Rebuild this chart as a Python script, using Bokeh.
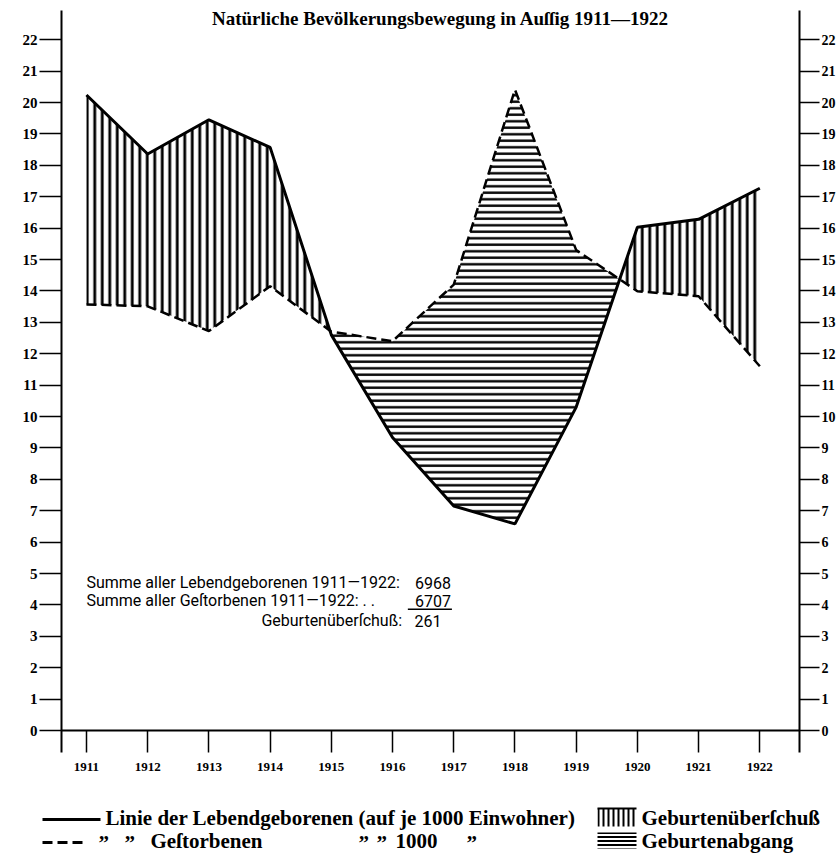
import numpy as np
from bokeh.plotting import figure
from bokeh.models import Range1d, LinearAxis, FixedTicker, Span, Label
from bokeh.layouts import column
from bokeh.embed import file_html
from bokeh.resources import INLINE
from bokeh.core.properties import value

# ---------------- data ----------------
years = [1911, 1912, 1913, 1914, 1915, 1916, 1917, 1918, 1919, 1920, 1921, 1922]
births = [20.24, 18.36, 19.45, 18.57, 12.6, 9.33, 7.15, 6.58, 10.3, 16.03, 16.28, 17.27]
deaths = [13.57, 13.51, 12.72, 14.15, 12.7, 12.4, 14.2, 20.41, 15.3, 13.99, 13.83, 11.6]
y_ticks = list(range(0, 23))
sum_births = 6968
sum_deaths = 6707
surplus_total = sum_births - sum_deaths

title_text = "Natürliche Bevölkerungsbewegung in Auſſig 1911—1922"
line1_text = "Summe aller Lebendgeborenen 1911—1922:"
line2_text = "Summe aller Geſtorbenen 1911—1922:    .    ."
line3_text = "Geburtenüberſchuß:"
leg_births = "Linie der Lebendgeborenen (auf je 1000 Einwohner)"
leg_deaths = "Geſtorbenen"
leg_per = "1000"
leg_surplus = "Geburtenüberſchuß"
leg_deficit = "Geburtenabgang"
ditto = "\u201d"

# ------------- insert crossing points between the two series -------------
xs, bb, dd = [], [], []
for i in range(len(years)):
    xs.append(years[i]); bb.append(births[i]); dd.append(deaths[i])
    if i < len(years) - 1:
        d1 = births[i] - deaths[i]
        d2 = births[i + 1] - deaths[i + 1]
        if d1 * d2 < 0:
            t = d1 / (d1 - d2)
            xc = years[i] + t
            yc = births[i] + t * (births[i + 1] - births[i])
            xs.append(xc); bb.append(yc); dd.append(yc)
top = [max(a, b) for a, b in zip(bb, dd)]

SERIF = "Liberation Serif"
SANS = "Roboto"

# ---------------- main figure ----------------
p = figure(width=838, height=790,
           x_range=Range1d(1910.592, 1922.648), y_range=Range1d(-0.70, 22.93),
           x_axis_type=None, y_axis_type=None,
           output_backend="svg", toolbar_location=None,
           min_border_left=61, min_border_right=38, min_border_top=10, min_border_bottom=38)
p.outline_line_color = None
p.background_fill_color = "white"
p.border_fill_color = "white"
p.frame_align = False

def style_y(ax, tick_out, size):
    ax.ticker = FixedTicker(ticks=y_ticks)
    ax.axis_line_width = 2
    ax.axis_line_color = "black"
    ax.major_tick_out = tick_out
    ax.major_tick_in = 0
    ax.major_tick_line_width = 1.5
    ax.minor_tick_out = 0
    ax.minor_tick_in = 0
    ax.major_label_standoff = 2
    ax.major_label_text_font = SERIF
    ax.major_label_text_font_style = "bold"
    ax.major_label_text_font_size = size
    ax.major_label_text_color = "black"

yl = LinearAxis()
style_y(yl, 22, "15px")
p.add_layout(yl, "left")
yr = LinearAxis()
style_y(yr, 20, "14px")
p.add_layout(yr, "right")

xa = LinearAxis(ticker=FixedTicker(ticks=years))
xa.axis_line_color = None
xa.major_tick_in = 22
xa.major_tick_out = 0
xa.major_tick_line_width = 1.5
xa.minor_tick_in = 0
xa.minor_tick_out = 0
xa.major_label_standoff = 10
xa.major_label_text_font = SERIF
xa.major_label_text_font_style = "bold"
xa.major_label_text_font_size = "13px"
xa.major_label_text_color = "black"
p.add_layout(xa, "below")

p.add_layout(Span(location=0, dimension="width", line_color="black", line_width=2.2))

# hatched areas
p.varea(x=xs, y1=dd, y2=top, fill_color=None, fill_alpha=0,
        hatch_pattern="vertical_line", hatch_color="black", hatch_weight=2.8, hatch_scale=7.5)
p.varea(x=xs, y1=bb, y2=top, fill_color=None, fill_alpha=0,
        hatch_pattern="horizontal_line", hatch_color="black", hatch_weight=2.4, hatch_scale=6.5)

# lines
p.line(years, births, line_color="black", line_width=3)
p.line(years, deaths, line_color="black", line_width=2.5, line_dash="10 5")

# title (top of the page, kept fully visible)
p.add_layout(Label(x=379, y=734, x_units="screen", y_units="screen", text=title_text,
                   text_align="center", text_baseline="alphabetic",
                   text_font=SERIF, text_font_style="bold", text_font_size="19px",
                   text_color="black"))

# text block
TB = dict(text_font=value(SANS), text_font_size="16px", text_color="black", text_baseline="middle")
p.text(x=[1911.0, 1911.0], y=[4.71, 4.13], text=[line1_text, line2_text], text_align="left", **TB)
p.text(x=[1916.954, 1916.954, 1916.8], y=[4.71, 4.13, 3.50],
       text=[str(sum_births), str(sum_deaths), str(surplus_total)], text_align="right", **TB)
p.text(x=[1916.155], y=[3.50], text=[line3_text], text_align="right", **TB)
p.segment(x0=[1916.25], y0=[3.86], x1=[1916.97], y1=[3.86], line_color="black", line_width=1.5)

# ---------------- legend figure ----------------
lf = figure(width=838, height=67, x_range=Range1d(0, 838), y_range=Range1d(67, 0),
            x_axis_type=None, y_axis_type=None,
            output_backend="svg", toolbar_location=None, min_border=0)
lf.outline_line_color = None
lf.background_fill_color = "white"
lf.border_fill_color = "white"
lf.frame_align = False

LF = dict(text_font=value(SERIF), text_font_style="bold", text_font_size="21px",
          text_color="black", text_baseline="middle")
lf.segment(x0=[42], y0=[29], x1=[100], y1=[29], line_color="black", line_width=3)
lf.text(x=[105], y=[27], text=[leg_births], text_align="left", **LF)
lf.quad(left=[597], right=[636], top=[18], bottom=[36], fill_color=None, line_color=None,
        hatch_pattern="vertical_line", hatch_color="black", hatch_weight=2, hatch_scale=5)
lf.segment(x0=[597], y0=[18], x1=[636], y1=[18], line_color="black", line_width=2)
lf.text(x=[641], y=[27], text=[leg_surplus], text_align="left", **LF)

lf.segment(x0=[42], y0=[52], x1=[82], y1=[52], line_color="black", line_width=3, line_dash="10 5")
lf.text(x=[98, 124, 358, 376, 466], y=[52] * 5, text=[ditto] * 5, text_align="left", **LF)
lf.text(x=[150], y=[50], text=[leg_deaths], text_align="left", **LF)
lf.text(x=[395], y=[50], text=[leg_per], text_align="left", **LF)
lf.quad(left=[597], right=[636], top=[42], bottom=[58], fill_color=None, line_color=None,
        hatch_pattern="horizontal_line", hatch_color="black", hatch_weight=2, hatch_scale=4)
lf.text(x=[641], y=[50], text=[leg_deficit], text_align="left", **LF)

layout = column(p, lf, spacing=0)
open("out.html", "w").write(file_html(layout, INLINE))
